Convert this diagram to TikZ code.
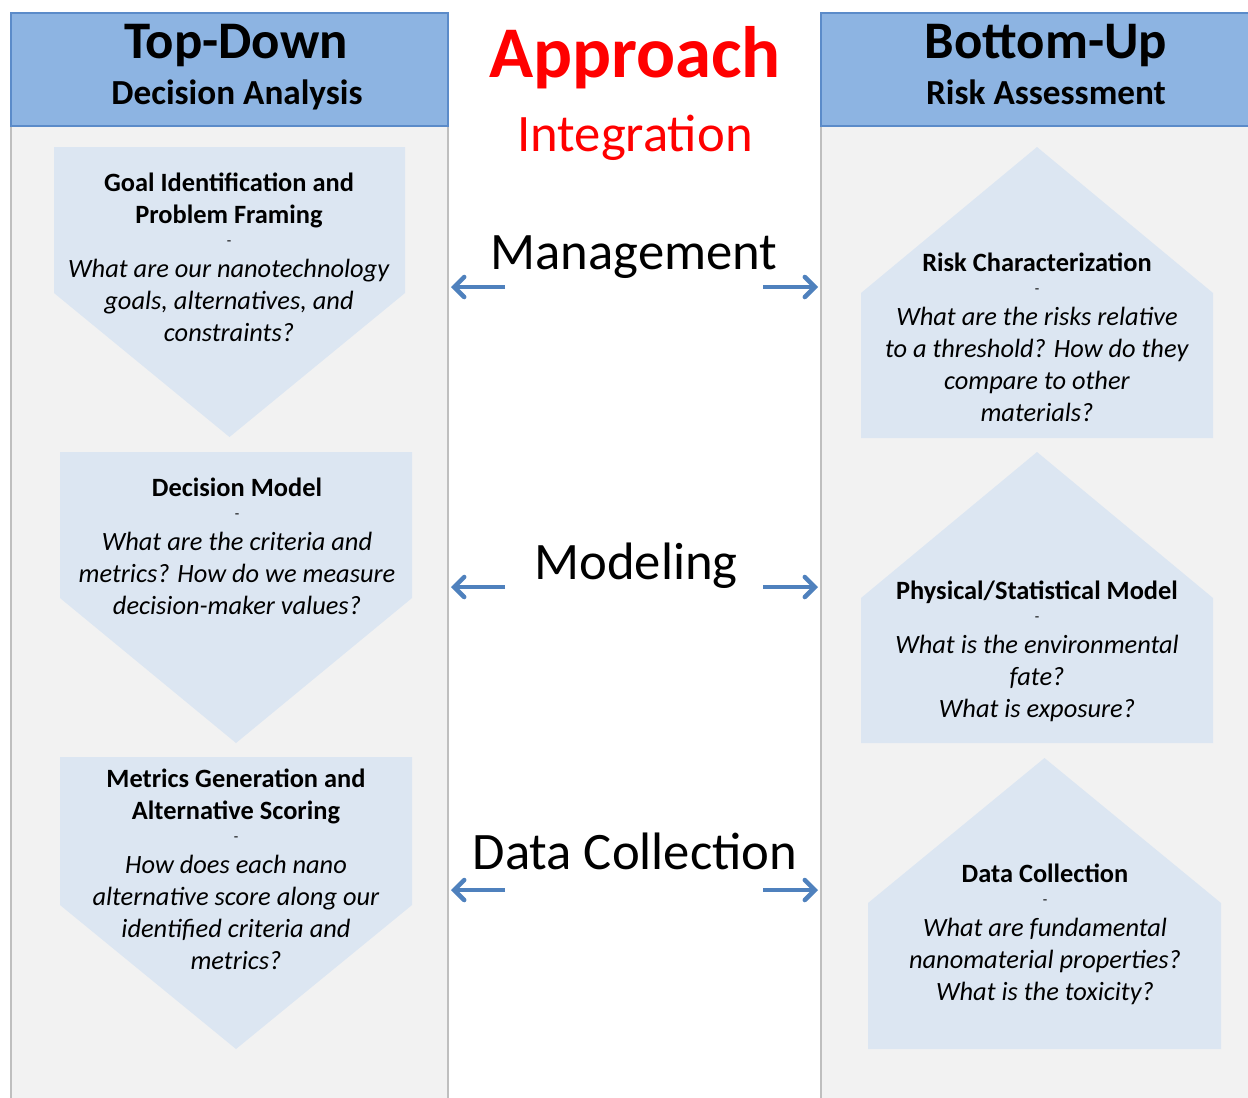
\documentclass[tikz,border=0pt]{standalone}
\usepackage{fontspec}
\setmainfont{Carlito}
\usetikzlibrary{arrows.meta}
\definecolor{hdrfill}{HTML}{8DB4E2}
\definecolor{hdrline}{HTML}{5B8BC9}
\definecolor{panelfill}{HTML}{F2F2F2}
\definecolor{panelline}{HTML}{BFBFBF}
\definecolor{shapefill}{HTML}{DCE6F2}
\definecolor{arrowcol}{HTML}{4F81BD}
\definecolor{redtxt}{HTML}{FF0000}
\tikzset{
  panel/.style={fill=panelfill, draw=panelline, line width=1.5pt},
  header/.style={fill=hdrfill, draw=hdrline, line width=0.9pt},
  stepshape/.style={fill=shapefill, draw=none},
  boxtext/.style={align=center, anchor=base, inner sep=0pt, font=\fontsize{19.8}{24}\selectfont},
  linkarrow/.style={draw=arrowcol, line width=3.4pt, -{Straight Barb[length=7.5pt,width=15pt,line cap=round]}},
  midlabel/.style={anchor=base, inner sep=0pt, font=\fontsize{39.5}{42}\selectfont},
  hdrtitle/.style={anchor=base, inner sep=0pt, font=\fontsize{39.6}{42}\selectfont\bfseries},
  hdrsub/.style={anchor=base, inner sep=0pt, font=\fontsize{26.4}{30}\selectfont\bfseries},
}
\newcommand{\sepdash}{{\fontsize{11}{24}\selectfont -}}
\begin{document}
\begin{tikzpicture}[x=0.75pt,y=-0.75pt]
\useasboundingbox (0,0) rectangle (1248,1097);
% panels
\path[panel] (11,13) rectangle (448,1115);
\path[header] (11,13) rectangle (448,126);
\path[panel] (821,13) rectangle (1275,1115);
\path[header] (821,13) rectangle (1275,126);
% left shapes (pointing down)
\path[stepshape] (54,147) -- (405,147) -- (405,293) -- (229.5,437) -- (54,293) -- cycle;
\path[stepshape] (60,452) -- (412,452) -- (412,598) -- (236,743) -- (60,598) -- cycle;
\path[stepshape] (60,757) -- (412,757) -- (412,905) -- (236,1049) -- (60,905) -- cycle;
% right shapes (pointing up)
\path[stepshape] (861,438) -- (861,293) -- (1037,147) -- (1213,293) -- (1213,438) -- cycle;
\path[stepshape] (861,743) -- (861,598) -- (1037,452) -- (1213,598) -- (1213,743) -- cycle;
\path[stepshape] (868,1049) -- (868,903) -- (1044.5,758) -- (1221,903) -- (1221,1049) -- cycle;
% header texts
\node[hdrtitle] (tdtitle) at (236,58) {Top-Down};
\node[hdrsub] (tdsub) at (237,104) {Decision Analysis};
\node[hdrtitle] (butitle) at (1046,58) {Bottom-Up};
\node[hdrsub] (busub) at (1046,104) {Risk Assessment};
\node[anchor=base, inner sep=0pt, text=redtxt, font=\fontsize{54.6}{58}\selectfont\bfseries] (approach) at (635,77) {Approach};
\node[anchor=base, inner sep=0pt, text=redtxt, font=\fontsize{39.5}{42}\selectfont] (integration) at (635,151) {Integration};
% middle labels
\node[midlabel] (mgmt) at (634,269) {Management};
\node[midlabel] (modl) at (636,579) {Modeling};
\node[midlabel] (datac) at (635,869) {Data Collection};
% box texts (anchored at the baseline of their last line)
\node[boxtext] (l1text) at (229,341) {\textbf{Goal Identification and}\\\textbf{Problem Framing}\\[-7.5pt]\sepdash\\\textit{What are our nanotechnology}\\\textit{goals, alternatives, and}\\\textit{constraints?}};
\node[boxtext] (l2text) at (237,614) {\textbf{Decision Model}\\[-7.5pt]\sepdash\\\textit{What are the criteria and}\\\textit{metrics? How do we measure}\\\textit{decision-maker values?}};
\node[boxtext] (l3text) at (236,969) {\textbf{Metrics Generation and}\\\textbf{Alternative Scoring}\\[-7.5pt]\sepdash\\\textit{How does each nano}\\\textit{alternative score along our}\\\textit{identified criteria and}\\\textit{metrics?}};
\node[boxtext] (r1text) at (1037,421) {\textbf{Risk Characterization}\\[-7.5pt]\sepdash\\\textit{What are the risks relative}\\\textit{to a threshold? How do they}\\\textit{compare to other}\\\textit{materials?}};
\node[boxtext] (r2text) at (1037,717) {\textbf{Physical/Statistical Model}\\[-7.5pt]\sepdash\\\textit{What is the environmental}\\\textit{fate?}\\\textit{What is exposure?}};
\node[boxtext] (r3text) at (1045,1000) {\textbf{Data Collection}\\[-7.5pt]\sepdash\\\textit{What are fundamental}\\\textit{nanomaterial properties?}\\\textit{What is the toxicity?}};
% arrows
\coordinate (mgLs) at (505,287); \coordinate (mgLe) at (451,287);
\coordinate (mgRs) at (763,287); \coordinate (mgRe) at (818,287);
\coordinate (moLs) at (505,587); \coordinate (moLe) at (451,587);
\coordinate (moRs) at (763,587); \coordinate (moRe) at (818,587);
\coordinate (dcLs) at (505,890); \coordinate (dcLe) at (451,890);
\coordinate (dcRs) at (763,890); \coordinate (dcRe) at (818,890);
\draw[linkarrow] (mgLs) -- (mgLe);
\draw[linkarrow] (mgRs) -- (mgRe);
\draw[linkarrow] (moLs) -- (moLe);
\draw[linkarrow] (moRs) -- (moRe);
\draw[linkarrow] (dcLs) -- (dcLe);
\draw[linkarrow] (dcRs) -- (dcRe);
\end{tikzpicture}
\end{document}
